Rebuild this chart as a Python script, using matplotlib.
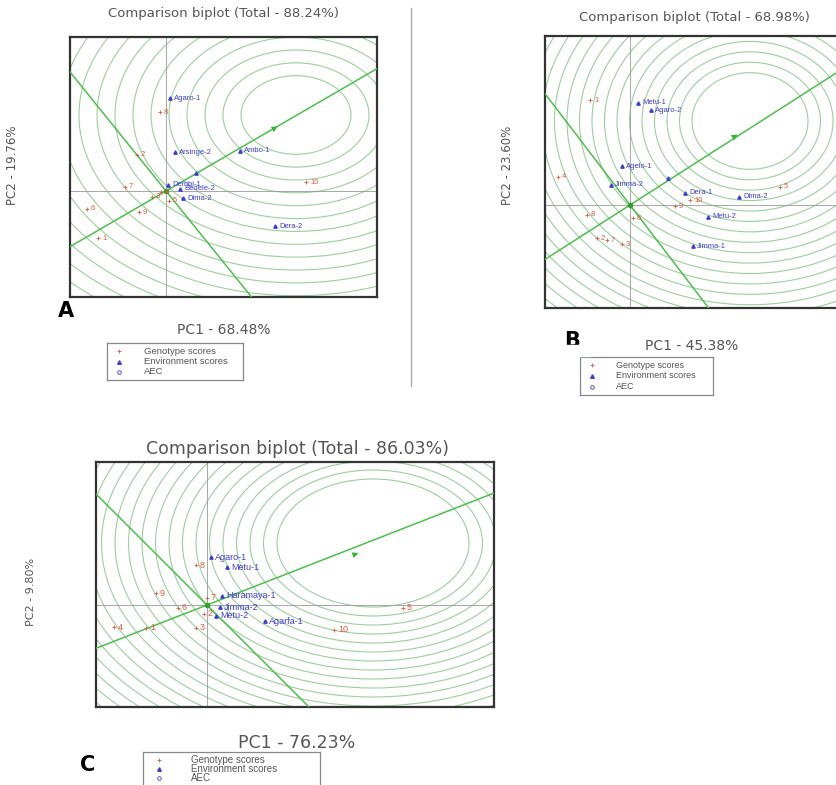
import numpy as np
import matplotlib

matplotlib.use("Agg")
import matplotlib.pyplot as plt
from matplotlib.lines import Line2D
from matplotlib.patches import Ellipse, Rectangle

plt.rcParams["font.family"] = ["Liberation Sans", "DejaVu Sans"]

# ---- panel A: comparison biplot, total 88.24 %
a_title = "Comparison biplot (Total - 88.24%)"
a_xlabel = "PC1 - 68.48%"
a_ylabel = "PC2 - 19.76%"
a_gen_labels = ["8", "2", "7", "6", "3", "9", "1", "10", "4", "5"]
a_gen_x = [-0.06, -0.29, -0.41, -0.79, -0.14, -0.27, -0.68, 1.40, -0.05, 0.03]
a_gen_y = [0.79, 0.36, 0.04, -0.18, -0.06, -0.21, -0.47, 0.09, -0.01, -0.10]
a_env_labels = ["Agaro-1", "Arsinge-2", "Ambo-1", "", "Dembi-1", "Bedele-2", "Dima-2", "Dera-2"]
a_env_x = [0.04, 0.09, 0.74, 0.30, 0.02, 0.14, 0.17, 1.09]
a_env_y = [0.93, 0.39, 0.40, 0.18, 0.06, 0.02, -0.07, -0.35]
a_aec = (0.58, -1.24)          # slopes of AEC abscissa / ordinate
a_arrow = (1.14, 0.66)
a_center = (1.30, 0.76)
a_rings = (0.55, 0.18, 1.4)    # inner radius, spacing, x/y stretch

# ---- panel B: comparison biplot, total 68.98 %
b_title = "Comparison biplot (Total - 68.98%)"
b_xlabel = "PC1 - 45.38%"
b_ylabel = "PC2 - 23.60%"
b_gen_labels = ["1", "4", "8", "2", "7", "3", "6", "9", "10", "5"]
b_gen_x = [-0.40, -0.72, -0.43, -0.33, -0.23, -0.08, 0.03, 0.45, 0.60, 1.50]
b_gen_y = [1.05, 0.28, -0.10, -0.33, -0.35, -0.39, -0.13, -0.01, 0.05, 0.18]
b_env_labels = ["Metu-1", "Agaro-2", "Agelo-1", "Jimma-2", "", "Dera-1", "Dima-2", "Metu-2", "Jimma-1"]
b_env_x = [0.08, 0.21, -0.08, -0.19, 0.38, 0.55, 1.09, 0.78, 0.63]
b_env_y = [1.02, 0.95, 0.39, 0.20, 0.27, 0.12, 0.08, -0.12, -0.41]
b_aec = (0.64, -1.31)
b_arrow = (1.10, 0.72)
b_center = (1.20, 0.84)
b_rings = (0.58, 0.125, 1.2)

# ---- panel C: comparison biplot, total 86.03 %
c_title = "Comparison biplot (Total - 86.03%)"
c_xlabel = "PC1 - 76.23%"
c_ylabel = "PC2 - 9.80%"
c_gen_labels = ["8", "9", "6", "4", "1", "3", "7", "2", "10", "5"]
c_gen_x = [-0.11, -0.51, -0.29, -0.93, -0.61, -0.11, 0.00, -0.03, 1.27, 1.96]
c_gen_y = [0.40, 0.12, -0.03, -0.22, -0.23, -0.23, 0.07, -0.09, -0.25, -0.03]
c_env_labels = ["Agaro-1", "Metu-1", "Haramaya-1", "Jimma-2", "Metu-2", "Agarfa-1"]
c_env_x = [0.04, 0.20, 0.15, 0.13, 0.09, 0.58]
c_env_y = [0.48, 0.38, 0.09, -0.02, -0.11, -0.16]
c_aec = (0.39, -1.0)
c_arrow = (1.54, 0.53)
c_center = (1.66, 0.62)
c_rings = (0.96, 0.135, 1.5)

legend_names = ["Genotype scores", "Environment scores", "AEC"]

RING = "#9dcf9d"
LINE = "#4dbf4d"
GEN = "#dd5a3c"
ENV = "#3c3cd6"
GREY = "#555555"

W, H = 836, 785


def fig_box(x0, y0, x1, y1):
    return [x0 / W, 1 - y1 / H, (x1 - x0) / W, (y1 - y0) / H]


def draw_biplot(ax, xlim, ylim, gl, gx, gy, el, ex, ey, aec, arrow, center, rings, fs):
    ax.set_xlim(*xlim)
    ax.set_ylim(*ylim)
    r0, dr, stretch = rings
    for k in range(34):
        r = r0 + k * dr
        ax.add_patch(Ellipse(center, 2 * r, 2 * r / stretch, fill=False,
                             ec=RING, lw=0.8, zorder=1))
    ax.axhline(0, color="#999999", lw=0.6, zorder=2)
    ax.axvline(0, color="#999999", lw=0.6, zorder=2)
    xs = np.array(xlim) * 1.5
    ax.plot(xs, aec[0] * xs, color=LINE, lw=1.1, zorder=3)
    ax.plot(xs, aec[1] * xs, color=LINE, lw=1.1, zorder=3)
    ax.annotate("", xy=arrow, xytext=(arrow[0] - 0.1, arrow[1] - 0.1 * aec[0]),
                arrowprops=dict(arrowstyle="-|>", color="#33b533", lw=0,
                                mutation_scale=11), zorder=4)
    ax.plot([0], [0], "o", ms=3, color="#33a033", zorder=4)
    ax.plot(gx, gy, "+", color=GEN, ms=3, mew=0.6, zorder=5)
    for lab, x, y in zip(gl, gx, gy):
        ax.text(x + 0.04, y, lab, color=GEN, fontsize=fs, va="center", zorder=6)
    ax.plot(ex, ey, "^", color=ENV, ms=2.4, zorder=5)
    for lab, x, y in zip(el, ex, ey):
        ax.text(x + 0.04, y, lab, color=ENV, fontsize=fs, va="center", zorder=6)
    ax.set_xticks([])
    ax.set_yticks([])
    for s in ax.spines.values():
        s.set_linewidth(1.6)
        s.set_color("#333333")


def draw_legend(box, fs, ys):
    lax = fig.add_axes(fig_box(*box))
    lax.set_xlim(0, 1)
    lax.set_ylim(0, 1)
    lax.set_xticks([])
    lax.set_yticks([])
    for s in lax.spines.values():
        s.set_color("#888888")
        s.set_linewidth(0.9)
    lax.plot([0.09], [ys[0]], "+", color=GEN, ms=3, mew=0.6)
    lax.plot([0.09], [ys[1]], "^", color=ENV, ms=2.6)
    lax.plot([0.09], [ys[2]], "o", mfc="none", mec=ENV, ms=2.6, mew=0.6)
    for y, name in zip(ys, legend_names):
        lax.text(0.27, y, name, fontsize=fs, color=GREY, va="center")


fig = plt.figure(figsize=(W / 100, H / 100), dpi=100)

ax_a = fig.add_axes(fig_box(70, 37, 377, 297))
draw_biplot(ax_a, (-0.96, 2.11), (-1.06, 1.54), a_gen_labels, a_gen_x, a_gen_y,
            a_env_labels, a_env_x, a_env_y, a_aec, a_arrow, a_center, a_rings, 5.5)
ax_b = fig.add_axes(fig_box(545, 36, 852, 308))
draw_biplot(ax_b, (-0.85, 2.22), (-1.03, 1.69), b_gen_labels, b_gen_x, b_gen_y,
            b_env_labels, b_env_x, b_env_y, b_aec, b_arrow, b_center, b_rings, 5.5)
ax_c = fig.add_axes(fig_box(96, 462, 494, 707))
draw_biplot(ax_c, (-1.11, 2.87), (-1.02, 1.43), c_gen_labels, c_gen_x, c_gen_y,
            c_env_labels, c_env_x, c_env_y, c_aec, c_arrow, c_center, c_rings, 6.5)


def ftext(x, y, s, **kw):
    fig.text(x / W, 1 - y / H, s, ha="center", va="center", **kw)


wide = ["DejaVu Sans"]
ftext(224, 14, a_title, fontsize=9.5, color=GREY, family=wide)
ftext(694, 18, b_title, fontsize=9.5, color=GREY, family=wide)
ftext(298, 449, c_title, fontsize=12.5, color=GREY, family=wide)
ftext(224, 330, a_xlabel, fontsize=10, color=GREY, family=wide)
ftext(692, 346, b_xlabel, fontsize=10, color=GREY, family=wide)
ftext(297, 743, c_xlabel, fontsize=12.5, color=GREY, family=wide)
ftext(13, 165, a_ylabel, fontsize=8.5, color=GREY, rotation=90, family=wide)
ftext(508, 165, b_ylabel, fontsize=8.5, color=GREY, rotation=90, family=wide)
ftext(31, 592, c_ylabel, fontsize=8, color=GREY, rotation=90, family=wide)
ftext(66, 311, "A", fontsize=15, fontweight="heavy", family=wide)
ftext(572, 341, "B", fontsize=15, fontweight="heavy", family=wide)
ftext(88, 765, "C", fontsize=15, fontweight="heavy", family=wide)
# the B letter is cut off at the bottom in the source figure
fig.add_artist(Rectangle((555 / W, 1 - 356 / H), 35 / W, 11 / H,
                         transform=fig.transFigure, color="white", zorder=10))

fig.add_artist(Line2D([411 / W, 411 / W], [1 - 8 / H, 1 - 386 / H], color="#aaaaaa", lw=1))

draw_legend((107, 343, 243, 380), 6.8, [0.78, 0.5, 0.22])
draw_legend((143, 752, 320, 792), 7.0, [0.8, 0.57, 0.34])
draw_legend((580, 357, 713, 395), 6.5, [0.78, 0.5, 0.22])

fig.savefig("out.png", dpi=100)
